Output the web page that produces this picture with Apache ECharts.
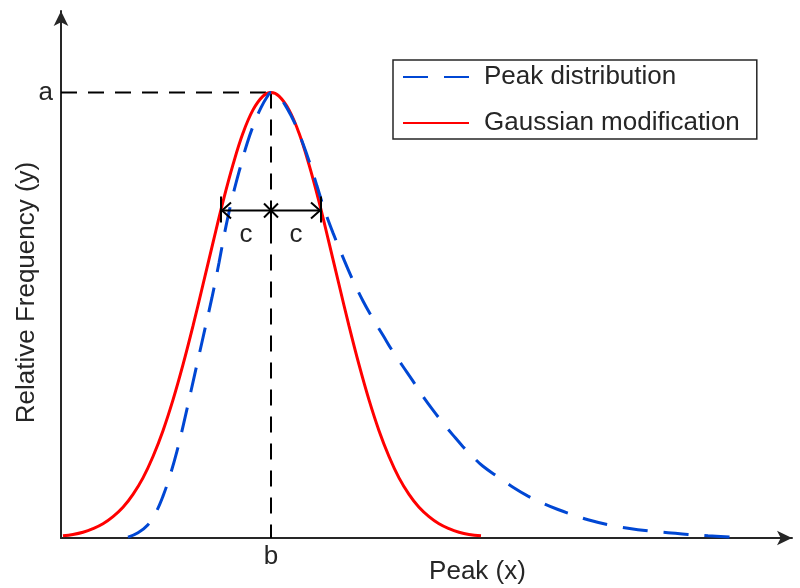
<!DOCTYPE html>
<html>
<head>
<meta charset="utf-8">
<script src="https://cdn.jsdelivr.net/npm/echarts@6/dist/echarts.min.js"></script>
<style>html,body{margin:0;padding:0;background:#fff}#c{width:800px;height:588px}</style>
</head>
<body>
<div id="c"></div>
<script>
// ---- data (x: horizontal position in chart units, y: relative frequency, peak = 1) ----
var gaussX = [2, 12, 22, 32, 42, 52, 62, 72, 82, 92, 102, 112, 122, 132, 142, 152, 162, 172, 182, 192, 202, 210,
              218, 228, 238, 248, 258, 268, 278, 288, 298, 308, 318, 328, 338, 348, 358, 368, 378, 388, 398, 408, 420];
var gaussY = [0.005, 0.008, 0.013, 0.021, 0.032, 0.048, 0.069, 0.098, 0.135, 0.183, 0.241, 0.31, 0.389, 0.476, 0.569, 0.663, 0.755, 0.838, 0.909, 0.961, 0.992, 1,
              0.992, 0.961, 0.909, 0.838, 0.755, 0.663, 0.569, 0.476, 0.389, 0.31, 0.241, 0.183, 0.135, 0.098, 0.069, 0.048, 0.032, 0.021, 0.013, 0.008, 0.005];

var peakX = [67, 77, 87, 95, 102, 109, 116, 123, 130, 137, 144, 151, 158, 165, 172, 179, 186, 193, 200, 206, 210,
             218, 226, 234, 242, 249, 256, 263, 272, 282, 292, 302, 312, 322, 332, 342, 352, 362, 372, 382, 392, 402, 412, 422,
             437, 452, 467, 482, 497, 512, 527, 547, 567, 587, 607, 627, 647, 672];
var peakY = [0.002, 0.012, 0.03, 0.058, 0.094, 0.14, 0.195, 0.26, 0.33, 0.4, 0.47, 0.54, 0.618, 0.7, 0.77, 0.83, 0.885, 0.93, 0.966, 0.99, 1,
             0.99, 0.965, 0.93, 0.885, 0.84, 0.79, 0.74, 0.685, 0.63, 0.578, 0.532, 0.492, 0.455, 0.418, 0.385, 0.352, 0.318, 0.287, 0.258, 0.231, 0.205, 0.182, 0.161,
             0.137, 0.114, 0.094, 0.078, 0.064, 0.052, 0.041, 0.03, 0.022, 0.016, 0.012, 0.008, 0.005, 0.002];

var seriesNames = ['Peak distribution', 'Gaussian modification'];
var peakA = 1;        // a : peak height
var peakB = 210;      // b : peak position
var halfC = 50;       // c : half width marker
var cLevel = 0.735;   // height of the c-arrow
var xMax = 731;
var yMax = 1.183;
var axisNames = ['Peak (x)', 'Relative Frequency (y)'];
var tickA = 'a', tickB = 'b', tickC = 'c';

function zip(xs, ys) { return xs.map(function (x, i) { return [x, ys[i]]; }); }

var FONT = 'Liberation Sans, Arial, Helvetica, sans-serif';
var TXT = '#262626';
var FS = 26;
var chart = echarts.init(document.getElementById('c'), null, {renderer: 'canvas'});
chart.setOption({
  animation: false,
  backgroundColor: '#fff',
  textStyle: {fontFamily: FONT, color: TXT},
  grid: {left: 61, right: 8, top: 11, bottom: 50, containLabel: false, outerBoundsMode: 'none'},
  legend: {
    data: seriesNames,
    orient: 'vertical', left: 393, top: 60,
    padding: [4, 17, 3, 9], itemGap: 20, itemWidth: 66, itemHeight: 14,
    borderColor: '#262626', borderWidth: 1.5, backgroundColor: '#fff',
    itemStyle: {opacity: 0},
    textStyle: {fontFamily: FONT, fontSize: FS, color: TXT, padding: [0, 0, 0, 10]}
  },
  xAxis: {
    type: 'value', min: 0, max: xMax, interval: peakB,
    name: axisNames[0], nameLocation: 'middle', nameGap: 21, nameMoveOverlap: false,
    nameTextStyle: {fontFamily: FONT, fontSize: FS, color: TXT, padding: [0, 0, 0, 102]},
    axisLine: {show: true, symbol: ['none', 'arrow'], symbolSize: [11, 15], lineStyle: {color: '#262626', width: 2}},
    axisTick: {show: false}, splitLine: {show: false},
    axisLabel: {fontFamily: FONT, fontSize: FS, color: TXT, margin: 6,
      formatter: function (v) { return v === peakB ? tickB : ''; }}
  },
  yAxis: {
    type: 'value', min: 0, max: yMax, interval: peakA,
    name: axisNames[1], nameLocation: 'middle', nameGap: 21, nameMoveOverlap: false,
    nameTextStyle: {fontFamily: FONT, fontSize: FS, color: TXT, padding: [0, 36, 0, 0]},
    axisLine: {show: true, symbol: ['none', 'arrow'], symbolSize: [11, 15], lineStyle: {color: '#262626', width: 2}},
    axisTick: {show: false}, splitLine: {show: false},
    axisLabel: {fontFamily: FONT, fontSize: FS, color: TXT, margin: 8,
      formatter: function (v) { return v === peakA ? tickA : ''; }}
  },
  series: [
    {
      name: 'guideH', type: 'line', silent: true, symbol: 'none', z: 1,
      data: [[0, peakA], [peakB, peakA]],
      lineStyle: {color: '#000', width: 2, type: [16, 11]}
    },
    {
      name: 'guideV', type: 'line', silent: true, symbol: 'none', z: 1,
      data: [[peakB, peakA], [peakB, 0]],
      lineStyle: {color: '#000', width: 2, type: [16, 11]}
    },
    {
      name: seriesNames[1], type: 'line', symbol: 'none', smooth: 0.4, z: 2,
      data: zip(gaussX, gaussY),
      color: '#ff0000',
      lineStyle: {color: '#ff0000', width: 3}
    },
    {
      name: seriesNames[0], type: 'line', symbol: 'none', smooth: 0.4, z: 3,
      data: zip(peakX, peakY),
      color: '#0047d4',
      lineStyle: {color: '#0047d4', width: 3, type: [25, 16]}
    },
    {
      name: 'cMarker', type: 'custom', silent: true, clip: false, z: 4,
      data: [[peakB, cLevel, halfC]],
      renderItem: function (params, api) {
        var x = api.value(0), y = api.value(1), c = api.value(2);
        var m = api.coord([x, y]), l = api.coord([x - c, y]), r = api.coord([x + c, y]);
        var st = {stroke: '#000', lineWidth: 2, fill: 'none'};
        var py = m[1];
        return {
          type: 'group',
          children: [
            {type: 'line', shape: {x1: l[0], y1: py, x2: r[0], y2: py}, style: st},
            {type: 'polyline', shape: {points: [[l[0] + 10, py - 8], [l[0] + 1, py], [l[0] + 10, py + 8]]}, style: st},
            {type: 'polyline', shape: {points: [[r[0] - 10, py - 8], [r[0] - 1, py], [r[0] - 10, py + 8]]}, style: st},
            {type: 'line', shape: {x1: l[0], y1: py - 14, x2: l[0], y2: py + 12}, style: st},
            {type: 'line', shape: {x1: r[0], y1: py - 14, x2: r[0], y2: py + 12}, style: st},
            {type: 'line', shape: {x1: m[0] - 7, y1: py - 7, x2: m[0] + 7, y2: py + 7}, style: st},
            {type: 'line', shape: {x1: m[0] - 7, y1: py + 7, x2: m[0] + 7, y2: py - 7}, style: st},
            {type: 'line', shape: {x1: m[0], y1: py - 9, x2: m[0], y2: py + 28}, style: st},
            {type: 'text', x: (l[0] + m[0]) / 2, y: py + 24, style: {text: tickC, fontFamily: FONT, fontSize: FS, fill: TXT, align: 'center', verticalAlign: 'middle'}},
            {type: 'text', x: (r[0] + m[0]) / 2, y: py + 24, style: {text: tickC, fontFamily: FONT, fontSize: FS, fill: TXT, align: 'center', verticalAlign: 'middle'}}
          ]
        };
      }
    }
  ]
});
</script>
</body>
</html>
